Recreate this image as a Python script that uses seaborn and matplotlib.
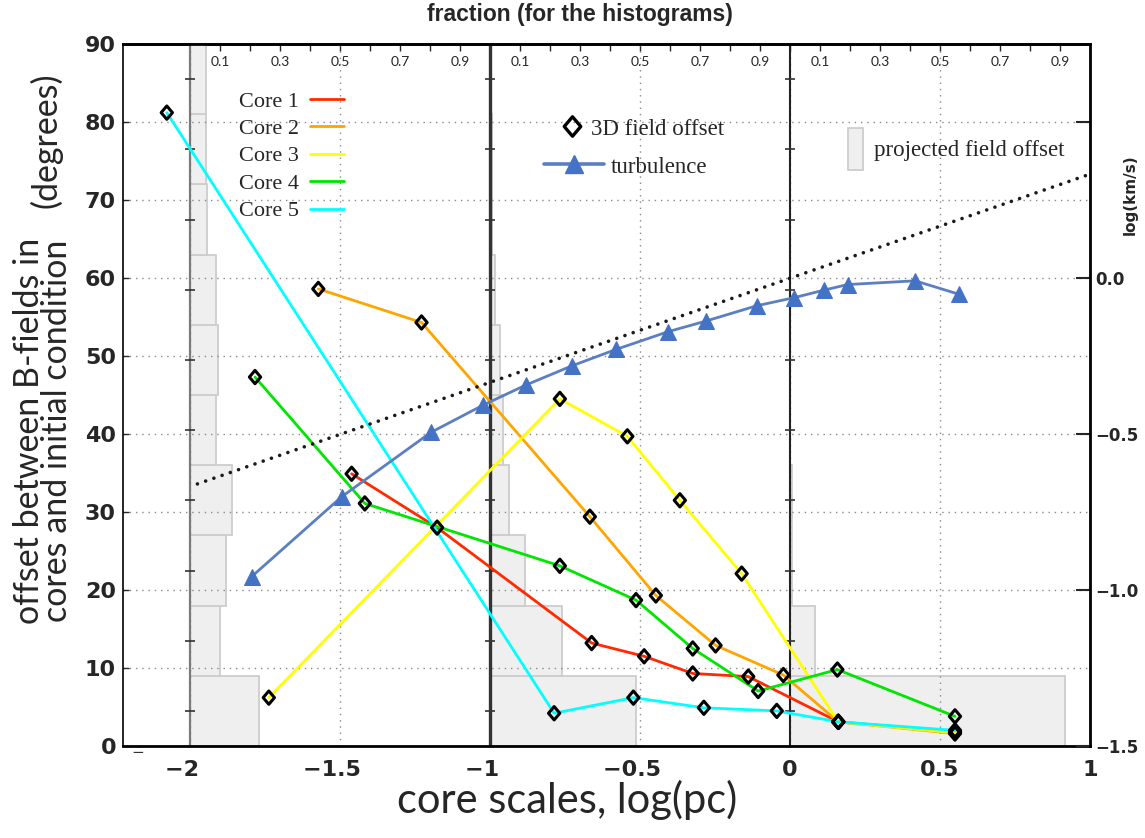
import numpy as np
import pandas as pd
import matplotlib
matplotlib.use("Agg")
import matplotlib.pyplot as plt
from matplotlib.lines import Line2D
from matplotlib.patches import Patch
from matplotlib.path import Path
from matplotlib.ticker import MultipleLocator
import seaborn as sns

# ---------------------------------------------------------------- data
# 3D field offset (degrees) versus core scale log(pc), one series per core
core_names = ["Core 1", "Core 2", "Core 3", "Core 4", "Core 5"]
core1_x = [-1.461, -1.176, -0.661, -0.486, -0.324, -0.139, 0.161, 0.55]
core1_y = [34.9, 28.0, 13.2, 11.5, 9.3, 8.9, 3.1, 1.8]
core2_x = [-1.572, -1.228, -0.667, -0.447, -0.248, -0.022, 0.161, 0.55]
core2_y = [58.6, 54.3, 29.4, 19.3, 12.9, 9.1, 3.1, 1.6]
core3_x = [-1.737, -0.767, -0.542, -0.367, -0.161, 0.161, 0.55]
core3_y = [6.2, 44.5, 39.7, 31.5, 22.1, 3.1, 1.7]
core4_x = [-1.783, -1.417, -0.767, -0.513, -0.324, -0.106, 0.158, 0.55]
core4_y = [47.3, 31.1, 23.1, 18.7, 12.5, 7.05, 9.8, 3.8]
core5_x = [-2.077, -0.786, -0.522, -0.287, -0.044, 0.161, 0.55]
core5_y = [81.2, 4.2, 6.2, 4.9, 4.5, 3.1, 2.0]
core_colors = ["#ff2a00", "#ffa500", "#ffff00", "#00e600", "#00ffff"]

# turbulent velocity, log(km/s), versus scale
turb_x = [-1.794, -1.494, -1.197, -1.022, -0.880, -0.728, -0.580, -0.406,
          -0.280, -0.111, 0.014, 0.113, 0.192, 0.417, 0.563]
turb_y = [-0.957, -0.701, -0.495, -0.407, -0.343, -0.282, -0.229, -0.172,
          -0.138, -0.089, -0.063, -0.039, -0.021, -0.009, -0.052]

# reference scaling line (end points)
ref_x = [-1.975, 1.0]
ref_y = [-0.66, 0.333]

# projected field offset histograms: 9-degree bins, fraction per bin
bin_edges = [0, 9, 18, 27, 36, 45, 54, 63, 72, 81, 90]
hist_bases = [-2.0, -1.0, 0.0]
hist_small = [0.23, 0.10, 0.12, 0.14, 0.087, 0.092, 0.087, 0.057, 0.055, 0.053]
hist_mid = [0.487, 0.239, 0.117, 0.064, 0.044, 0.032, 0.017, 0.008, 0.008, 0.0]
hist_large = [0.917, 0.083, 0.006, 0.006, 0.0, 0.0, 0.0, 0.0, 0.0, 0.0]

x_ticks = [-2, -1.5, -1, -0.5, 0, 0.5, 1]
# negative labels are centred on their digits, the minus sign hangs to the left
x_ticklabels = ["\u22122  ", "\u22121.5  ", "\u22121  ", "\u22120.5  ", "0", "0.5", "1"]
y_ticks = [0, 10, 20, 30, 40, 50, 60, 70, 80, 90]
r_ticks = [-1.5, -1.0, -0.5, 0.0, 0.5]
r_ticklabels = ["\u22121.5", "\u22121.0", "\u22120.5", "0.0", ""]
frac_ticks = [0.0, 0.1, 0.2, 0.3, 0.4, 0.5, 0.6, 0.7, 0.8, 0.9]
frac_labels = ["", "0.1", "", "0.3", "", "0.5", "", "0.7", "", "0.9"]

# ---------------------------------------------------------------- figure
sns.set_style("white")
plt.rcParams["font.family"] = ["DejaVu Sans"]
plt.rcParams["axes.unicode_minus"] = True

W, H = 1145, 838
fig = plt.figure(figsize=(W / 100, H / 100), dpi=100)
ax = fig.add_axes([123 / W, 1 - 746 / H, (1090 - 123) / W, (746 - 44) / H])
ax.set_xlim(-2.223, 1.0)
ax.set_ylim(0, 90)

# histograms, drawn horizontally from each panel base
centers = [(a + b) / 2 for a, b in zip(bin_edges[:-1], bin_edges[1:])]
heights = [b - a for a, b in zip(bin_edges[:-1], bin_edges[1:])]
for base, frac in zip(hist_bases, [hist_small, hist_mid, hist_large]):
    ax.barh(centers, frac, left=base, height=heights, color="#efefef",
            edgecolor="#cdcdcd", linewidth=1.3, zorder=1)

ax.grid(True, which="major", color="#8a8a8a", linestyle=(0, (1, 3.5)), linewidth=1.0)
ax.set_axisbelow("line")

# panel base lines and their bin ticks
for base, col, lw in zip(hist_bases, ["#7a7a7a", "#333333", "#222222"], [1.6, 2.4, 1.5]):
    ax.axvline(base, color=col, lw=lw, zorder=2.2)
    ax.plot([base] * len(centers), centers, ls="none", marker="_", ms=7,
            mew=1.2, color="#333333", zorder=2.3)

# cores: coloured paths and open diamonds
frames = []
for name, xs, ys in zip(core_names, [core1_x, core2_x, core3_x, core4_x, core5_x],
                        [core1_y, core2_y, core3_y, core4_y, core5_y]):
    frames.append(pd.DataFrame({"scale": xs, "offset": ys, "core": name}))
cores = pd.concat(frames, ignore_index=True)
palette = dict(zip(core_names, core_colors))
sns.lineplot(data=cores, x="scale", y="offset", hue="core", palette=palette,
             sort=False, estimator=None, legend=False, lw=2.0, ax=ax, zorder=3)

diamond = Path([(0, 1), (0.85, 0), (0, -1), (-0.85, 0), (0, 1)],
               [Path.MOVETO, Path.LINETO, Path.LINETO, Path.LINETO, Path.CLOSEPOLY])
ax.scatter(cores["scale"], cores["offset"], marker=diamond, s=92,
           facecolors="none", edgecolors="black", linewidths=2.2, zorder=4)

# axis styling
ax.set_xticks(x_ticks, labels=x_ticklabels)
ax.xaxis.set_minor_locator(MultipleLocator(0.1))
ax.set_yticks(y_ticks)
ax.tick_params(axis="x", which="major", direction="in", length=8, width=1.2,
               labelsize=16, pad=10, top=False)
ax.tick_params(axis="x", which="minor", direction="in", length=6, width=1.0, top=False)
ax.tick_params(axis="y", which="major", direction="in", length=4, width=1.0,
               labelsize=16, pad=5, right=False)
for lab in ax.get_xticklabels() + ax.get_yticklabels():
    lab.set_fontweight("bold")
ax.set_xlabel("")
ax.set_ylabel("")
ax.spines["left"].set_linewidth(1.2)
ax.spines["bottom"].set_linewidth(2.0)
ax.spines["top"].set_linewidth(2.0)
ax.spines["right"].set_visible(False)
for s in ax.spines.values():
    s.set_color("black")

# fraction axis along the top, one scale per panel
sec = ax.secondary_xaxis("top")
top_ticks, top_labels = [], []
for base in hist_bases:
    for f, l in zip(frac_ticks, frac_labels):
        top_ticks.append(base + f)
        top_labels.append(l)
sec.set_xticks(top_ticks, labels=top_labels)
sec.tick_params(direction="in", length=5, width=1.0, pad=-17, labelsize=10)
for lab in sec.get_xticklabels():
    lab.set_fontfamily("Lato")
sec.spines["top"].set_linewidth(2.0)

# turbulence on the right axis
ax2 = ax.twinx()
ax2.set_ylim(-1.5, 0.75)
ax2.plot(ref_x, ref_y, color="#1a1a1a", lw=2.6, linestyle=(0, (0.01, 2.4)),
         dash_capstyle="round", zorder=2)
sns.lineplot(x=turb_x, y=turb_y, ax=ax2, sort=False, estimator=None,
             color="#5b7fc2", lw=2.0, marker="^", markersize=11,
             markerfacecolor="#4472c4", markeredgecolor="#4472c4", zorder=3)
ax2.set_yticks(r_ticks, labels=r_ticklabels)
ax2.tick_params(axis="y", direction="in", length=10, width=1.5, labelsize=12, pad=4)
for lab in ax2.get_yticklabels():
    lab.set_fontweight("bold")
ax2.set_ylabel("")
for side in ["left", "top", "bottom"]:
    ax2.spines[side].set_visible(False)
ax2.spines["right"].set_linewidth(2.0)
ax2.spines["right"].set_color("black")

# legends
serif = {"family": "Liberation Serif"}
core_handles = [Line2D([], [], color=c, lw=2.0) for c in core_colors]
leg1 = ax2.legend(core_handles, core_names, loc="upper left",
                  bbox_to_anchor=(239 / W, 1 - 91 / H), bbox_transform=fig.transFigure,
                  frameon=False, markerfirst=False, handlelength=1.53,
                  handletextpad=0.5, labelspacing=0.31, borderpad=0, borderaxespad=0,
                  prop={**serif, "size": 16})
ax2.add_artist(leg1)

h_3d = Line2D([], [], marker=diamond, ls="none", mfc="none", mec="black", mew=2.4, ms=14)
leg2 = ax2.legend([h_3d], ["3D field offset"], loc="center left",
                  bbox_to_anchor=(561 / W, 1 - 129 / H), bbox_transform=fig.transFigure,
                  frameon=False, handlelength=0.95, handletextpad=0.35,
                  borderpad=0, borderaxespad=0, prop={**serif, "size": 16.5})
ax2.add_artist(leg2)

h_turb = Line2D([], [], color="#5b7fc2", lw=2.6, marker="^", ms=13,
                mfc="#4472c4", mec="#4472c4")
leg3 = ax2.legend([h_turb], ["turbulence"], loc="center left",
                  bbox_to_anchor=(544 / W, 1 - 167 / H), bbox_transform=fig.transFigure,
                  frameon=False, handlelength=2.6, handletextpad=0.3,
                  borderpad=0, borderaxespad=0, prop={**serif, "size": 16.5})
ax2.add_artist(leg3)

h_proj = Patch(facecolor="#efefef", edgecolor="#cdcdcd", linewidth=1.3)
ax2.legend([h_proj], ["projected field offset"], loc="center left",
           bbox_to_anchor=(848 / W, 1 - 149 / H), bbox_transform=fig.transFigure,
           frameon=False, handlelength=0.65, handleheight=2.4, handletextpad=0.5,
           borderpad=0, borderaxespad=0, prop={**serif, "size": 16.5})

# titles and axis labels
fig.text(580 / W, 1 - 14 / H, "fraction (for the histograms)", ha="center",
         va="center", fontsize=16.5, fontweight="bold", family="Liberation Sans")
fig.text(567 / W, 1 - 800 / H, "core scales, log(pc)", ha="center", va="center",
         fontsize=30, family="Lato")
fig.text(43 / W, 1 - 431 / H, "offset between B-fields in\ncores and initial condition",
         ha="center", va="center", multialignment="center", rotation=90,
         fontsize=24.5, linespacing=0.82, family="Lato")
fig.text(46 / W, 1 - 140 / H, "(degrees)", ha="center", va="center",
         rotation=90, fontsize=24.5, family="Lato")
fig.text(1130 / W, 1 - 195 / H, "log(km/s)", ha="center", va="center",
         rotation=90, fontsize=11, fontweight="bold")
fig.text(138 / W, 1 - 752 / H, "\u2212", ha="center", va="center", fontsize=11,
         color="#333333")

fig.savefig("out.png", dpi=100)
